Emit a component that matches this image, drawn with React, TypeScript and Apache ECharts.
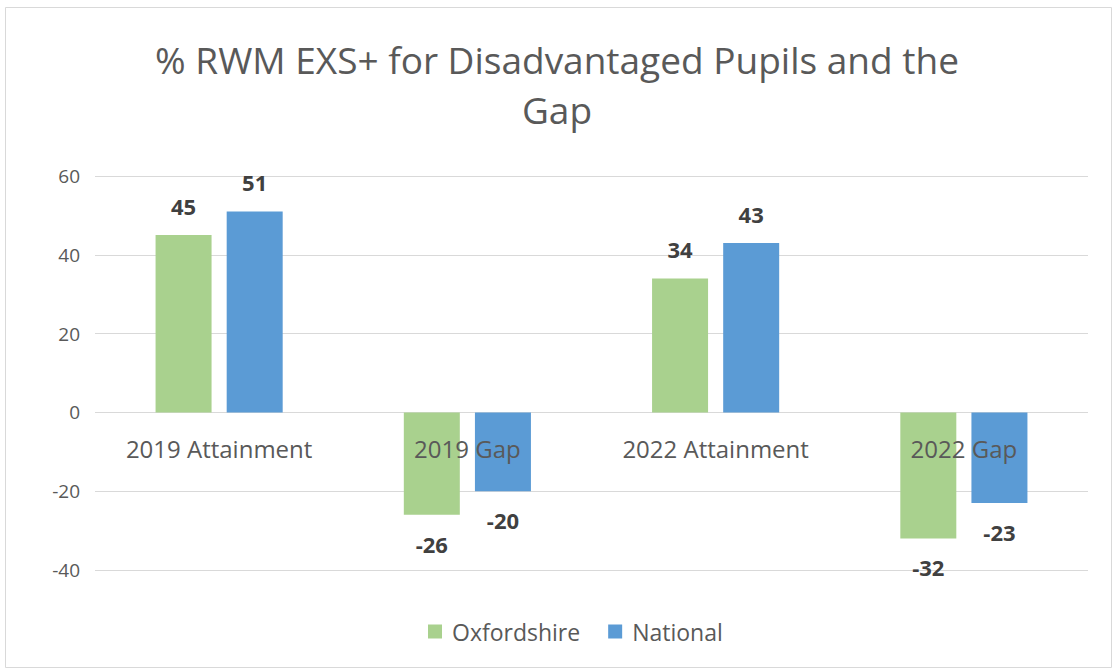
import React, { useEffect, useRef } from "react";
import * as echarts from "echarts";

const categories = ["2019 Attainment", "2019 Gap", "2022 Attainment", "2022 Gap"];
const oxfordshire = [45, -26, 34, -32];
const national = [51, -20, 43, -23];
const titleText = "% RWM EXS+ for Disadvantaged Pupils and the\nGap";

const FONT = "'Open Sans', 'Liberation Sans', sans-serif";

export default function App() {
  const ref = useRef<HTMLDivElement>(null);
  useEffect(() => {
    if (!ref.current) return;
    const chart = echarts.init(ref.current, undefined, { renderer: "svg" });
    const labelFor = (v: number) => ({
      show: true,
      position: v >= 0 ? "top" : "bottom",
      distance: 18,
      fontSize: 22,
      fontWeight: "bold",
      color: "#404040",
      fontFamily: FONT,
    });
    const mk = (name: string, arr: number[], color: string) => ({
      name,
      type: "bar",
      barWidth: 56,
      barGap: "27%",
      itemStyle: { color },
      data: arr.map((v) => ({ value: v, label: labelFor(v) })),
    });
    chart.setOption({
      animation: false,
      backgroundColor: "#fff",
      title: {
        text: titleText,
        left: "center",
        top: 29,
        textStyle: {
          fontSize: 37,
          fontWeight: "normal",
          color: "#595959",
          fontFamily: FONT,
          lineHeight: 50,
        },
      },
      graphic: [
        {
          type: "rect",
          shape: { x: 5.5, y: 7.5, width: 1106, height: 660 },
          style: { fill: "none", stroke: "#d9d9d9", lineWidth: 1 },
          silent: true,
        },
      ],
      legend: {
        bottom: 22,
        left: 423,
        itemWidth: 14,
        itemHeight: 14,
        itemGap: 28,
        icon: "rect",
        textStyle: { fontSize: 23, color: "#595959", fontFamily: FONT, padding: [0, 0, 0, 5] },
        data: ["Oxfordshire", "National"],
      },
      grid: { left: 95, right: 26, top: 176, bottom: 100, containLabel: false },
      xAxis: {
        type: "category",
        data: categories,
        position: "bottom",
        offset: -157,
        axisLine: { show: false },
        axisTick: { show: false },
        axisLabel: { fontSize: 24, color: "#595959", fontFamily: FONT, margin: 23 },
        z: 10,
      },
      yAxis: {
        type: "value",
        min: -40,
        max: 60,
        interval: 20,
        axisLine: { show: false },
        axisTick: { show: false },
        axisLabel: { fontSize: 19, color: "#595959", fontFamily: FONT, margin: 15 },
        splitLine: { lineStyle: { color: "#d9d9d9", width: 1 } },
      },
      series: [mk("Oxfordshire", oxfordshire, "#a9d18e"), mk("National", national, "#5b9bd5")],
    });
    return () => chart.dispose();
  }, []);
  return (
    <div
      ref={ref}
      style={{ position: "fixed", left: 0, top: 0, width: 1114, height: 670 }}
    />
  );
}
